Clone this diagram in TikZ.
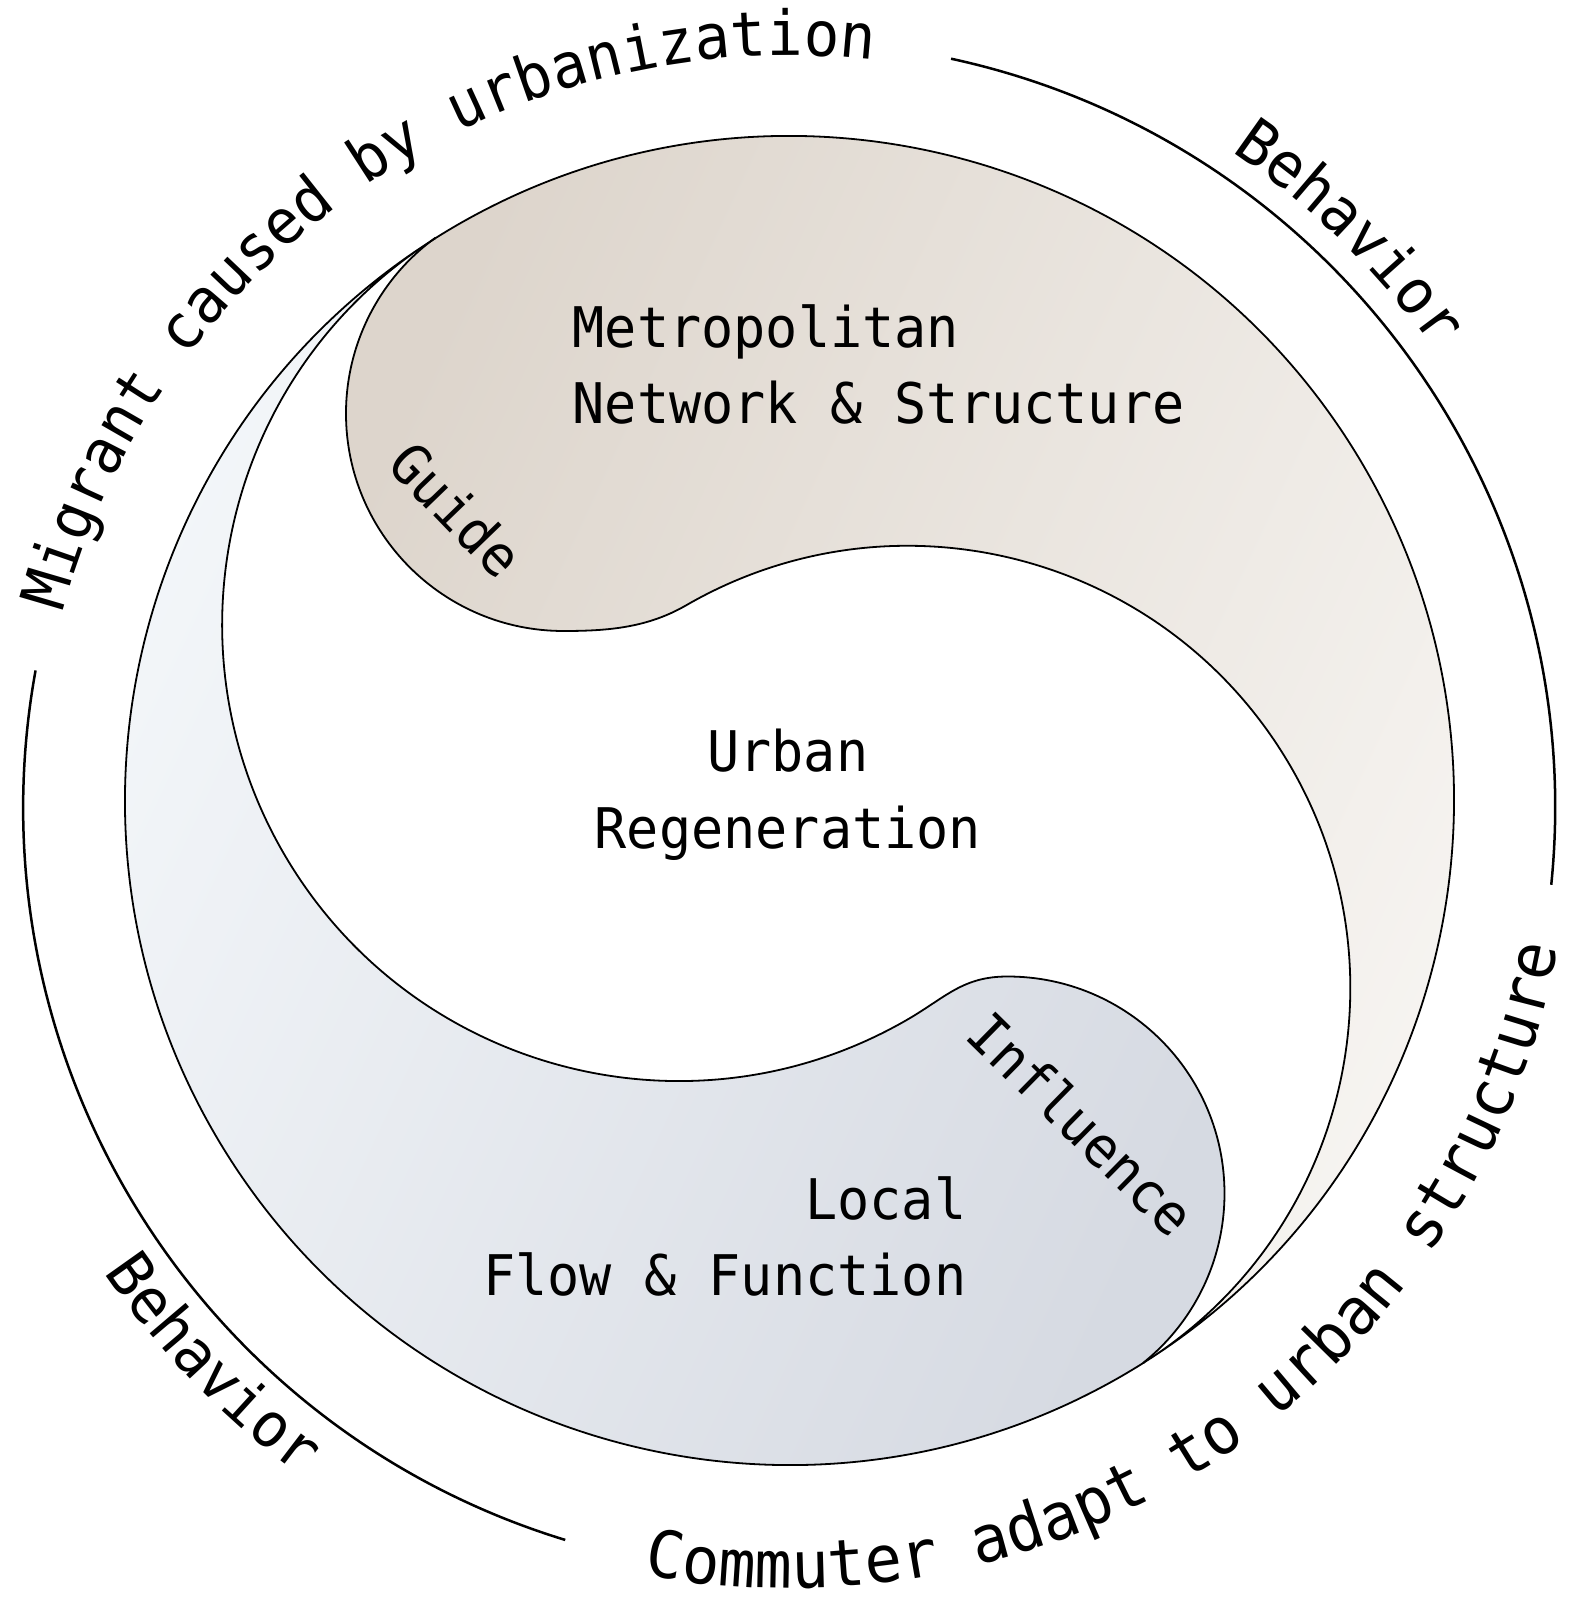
\documentclass[tikz,border=0pt]{standalone}
\usepackage{fontspec}
\newfontfamily\monofam[FakeStretch=0.955]{DejaVu Sans Mono}
\usetikzlibrary{decorations.text}
\definecolor{beigeD}{RGB}{221,213,204}
\definecolor{beigeL}{RGB}{247,245,242}
\definecolor{blueL}{RGB}{244,247,250}
\definecolor{blueD}{RGB}{214,218,226}
\newcommand\bodyfont{\monofam\fontsize{56}{67}\selectfont}
\newcommand\arcfont{\monofam\fontsize{62}{75}\selectfont}
\newcommand\longarcfont{\monofam\fontsize{65}{75}\selectfont}
\newcommand\tagfont{\monofam\fontsize{56}{70}\selectfont}
\begin{document}
\begin{tikzpicture}[x=1pt,y=1pt,
  outline/.style={draw=black, line width=1.8pt},
  ringline/.style={draw=black, line width=2.5pt},
  bodytext/.style={font=\bodyfont, inner sep=0pt},
  tagtext/.style={font=\tagfont, inner sep=0pt}]
\useasboundingbox[fill=white] (-789.5,-802.5) rectangle (792.5,800.5);
\coordinate (O) at (0,0);
\coordinate (rc) at (-0.3,-6.9);
\coordinate (T1) at (-354.1,562.3);
\coordinate (T2) at (354.1,-562.3);
\coordinate (Hb1) at (-226,169.5);
\coordinate (Hb2) at (218,-176);
% upper comma
\path[outline, top color=beigeD, bottom color=beigeL, shading angle=65]
  (T1) arc[start angle=122.2, end angle=-57.8, radius=664.5]
  arc[start angle=-57.8, end angle=120, radius=442.5]
  .. controls (-141.9,172.8) and (-181,169.5) .. (Hb1)
  arc[start angle=270, end angle=126.2, radius=217.5] -- cycle;
% lower comma
\path[outline, top color=blueD, bottom color=blueL, shading angle=-115]
  (T2) arc[start angle=-57.8, end angle=-237.8, radius=664.5]
  arc[start angle=122.2, end angle=300, radius=456.5]
  .. controls (156.4,-196.8) and (173,-176) .. (Hb2)
  arc[start angle=90, end angle=-51.2, radius=217] -- cycle;
% ring arcs
\draw[ringline] (rc) ++(77.8:766) arc[start angle=77.8, end angle=-5.8, radius=766];
\draw[ringline] (rc) ++(169.7:766) arc[start angle=169.7, end angle=253, radius=766];
% curved texts
\path[decorate, decoration={text along path, text={|\arcfont|Migrant caused by urbanization}, text align=center}]
  (rc) ++(170.5:752) arc[start angle=170.5, end angle=78, radius=752];
\path[decorate, decoration={text along path, text={|\longarcfont|Commuter adapt to urban structure}, text align=center}]
  (rc) ++(253.5:781) arc[start angle=253.5, end angle=355.5, radius=781];
\path[decorate, decoration={text along path, text={|\arcfont|Behavior}, text align=center}]
  (rc) ++(72:791) arc[start angle=72, end angle=19.4, radius=791];
\path[decorate, decoration={text along path, text={|\arcfont|Behavior}, text align=center}]
  (rc) ++(198:828) arc[start angle=198, end angle=250, radius=828];
% inner texts
\node[bodytext, anchor=base west] (metro) at (-217,453.3) {Metropolitan};
\node[bodytext, anchor=base west] (network) at (-217,377.2) {Network \& Structure};
\node[bodytext, anchor=base] (urban) at (-1.6,28.5) {Urban};
\node[bodytext, anchor=base] (regen) at (-1.6,-48.3) {Regeneration};
\node[bodytext, anchor=base east] (local) at (177,-418.5) {Local};
\node[bodytext, anchor=base east] (flow) at (177,-495.2) {Flow \& Function};
\node[tagtext, rotate=-46] (guide) at (-333,291) {Guide};
\node[tagtext, rotate=-44.5] (influence) at (292.5,-323.5) {Influence};
\end{tikzpicture}
\end{document}
